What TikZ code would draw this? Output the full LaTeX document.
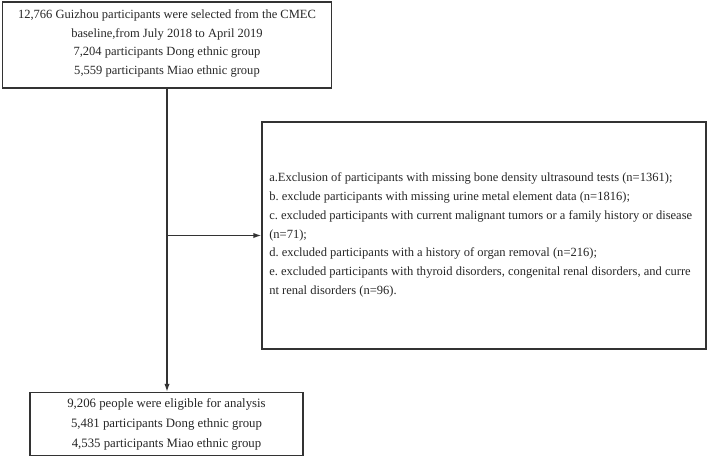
\documentclass[tikz,border=0pt]{standalone}
\usepackage{fontspec}
\setmainfont{Liberation Serif}
\usetikzlibrary{arrows.meta}
\frenchspacing
\begin{document}
\begin{tikzpicture}[x=0.75pt,y=-0.75pt,
  box/.style={draw=black!80,line width=1pt,inner sep=0pt,text=black!85},
  txt/.style={inner sep=0pt,text=black!85},
  conn/.style={draw=black!80,line width=1pt},
  arr/.style={conn,-{Latex[length=6pt,width=4pt]}}]
\useasboundingbox (0,0) rectangle (708,458);
\node[box,minimum width=329*0.75pt,minimum height=86*0.75pt] (top) at (167,45) {};
\node[txt,align=center,font=\fontsize{9.4}{13.9}\selectfont] (toptext) at (167,43.5)
 {12,766 Guizhou participants were selected from the CMEC\\
  baseline,from July 2018 to April 2019\\
  7,204 participants Dong ethnic group\\
  5,559 participants Miao ethnic group};
\node[box,minimum width=444*0.75pt,minimum height=227*0.75pt] (right) at (484,235.5) {};
\node[txt,align=left,anchor=west,font=\fontsize{9.4}{14.1}\selectfont] (righttext) at (269,235)
 {a.Exclusion of participants with missing bone density ultrasound tests (n=1361);\\
  b. exclude participants with missing urine metal element data (n=1816);\\
  c. excluded participants with current malignant tumors or a family history or disease\\
  (n=71);\\
  d. excluded participants with a history of organ removal (n=216);\\
  e. excluded participants with thyroid disorders, congenital renal disorders, and curre\\
  nt renal disorders (n=96).};
\node[box,minimum width=273*0.75pt,minimum height=63*0.75pt] (bot) at (166.5,424) {};
\node[txt,align=center,font=\fontsize{9.6}{15}\selectfont] (bottext) at (166.5,424.5)
 {9,206 people were eligible for analysis\\
  5,481 participants Dong ethnic group\\
  4,535 participants Miao ethnic group};
\coordinate (br) at (top.south |- right.west);
\draw[arr] (top.south) -- (top.south |- bot.north);
\draw[arr] (br) -- (right.west);
\end{tikzpicture}
\end{document}
